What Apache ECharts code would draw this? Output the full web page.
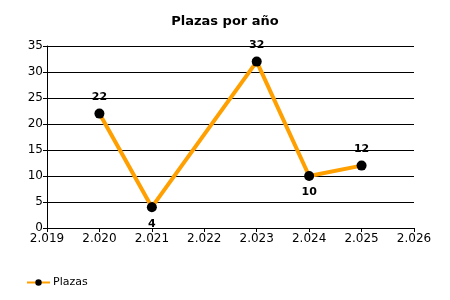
<!DOCTYPE html>
<html><head><meta charset="utf-8">
<script src="https://cdn.jsdelivr.net/npm/echarts@6/dist/echarts.min.js"></script>
<style>html,body{margin:0;padding:0;background:#fff}#c{width:450px;height:300px}</style>
</head><body><div id="c"></div>
<script>
const years = [2020, 2021, 2023, 2024, 2025];
const values = [22, 4, 32, 10, 12];
const labelPos = ['top', 'bottom', 'top', 'bottom', 'top'];
const xTicks = {min: 2019, max: 2026, step: 1};
const yTicks = {min: 0, max: 35, step: 5};

function fmtYear(v){ const t=Math.floor(v/1000), r=v%1000; return t+'.'+String(r).padStart(3,'0'); }

const chart = echarts.init(document.getElementById('c'), null, {renderer:'canvas'});
chart.setOption({
  animation:false,
  backgroundColor:'#fff',
  title:{text:'Plazas por año', left:'center', top:10,
    textStyle:{fontFamily:'DejaVu Sans', fontSize:13, fontWeight:'bold', color:'#000'}},
  grid:{left:47, right:36, top:46, bottom:72},
  legend:{left:21, top:272, itemWidth:23, itemHeight:8, itemGap:5,
    textStyle:{fontFamily:'DejaVu Sans', fontSize:11, color:'#000', padding:[0,0,0,-2]},
    data:['Plazas']},
  xAxis:{type:'value', min:xTicks.min, max:xTicks.max, interval:xTicks.step,
    axisLine:{show:true, lineStyle:{color:'#000', width:1}},
    axisTick:{show:true, length:4, lineStyle:{color:'#000'}},
    splitLine:{show:false},
    axisLabel:{formatter:fmtYear, color:'#000', fontFamily:'DejaVu Sans', fontSize:12, margin:5}},
  yAxis:{type:'value', min:yTicks.min, max:yTicks.max, interval:yTicks.step,
    axisLine:{show:true, lineStyle:{color:'#000', width:1}},
    axisTick:{show:true, length:4, lineStyle:{color:'#000'}},
    splitLine:{show:true, lineStyle:{color:'#000', width:1}},
    axisLabel:{color:'#000', fontFamily:'DejaVu Sans', fontSize:12, margin:4}},
  series:[{
    name:'Plazas', type:'line',
    data: years.map((y,i)=>({value:[y, values[i]], label:{position:labelPos[i]}})),
    lineStyle:{color:'#FFA000', width:4},
    itemStyle:{color:'#000'},
    symbol:'circle', symbolSize:10, showAllSymbol:true,
    label:{show:true, fontFamily:'DejaVu Sans', fontSize:11, fontWeight:'bold', color:'#000', distance:6}
  }]
});
</script></body></html>
